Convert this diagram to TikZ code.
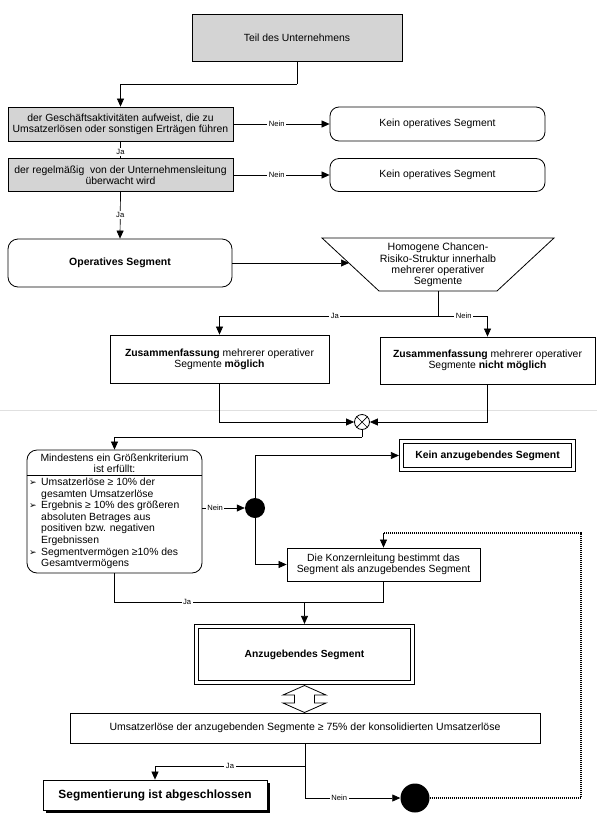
\documentclass[tikz,border=0pt]{standalone}
\usepackage{fontspec}
\setmainfont{Liberation Sans}
\newfontfamily\symfont{DejaVu Sans}
\usetikzlibrary{arrows.meta,shadows}
\newcommand{\arrbullet}{{\symfont\fontsize{9}{9}\selectfont ➢}}
\begin{document}
\begin{tikzpicture}[x=1pt,y=-1pt,
  every node/.style={font=\fontsize{10.4}{11.2}\selectfont},
  box/.style={draw, line width=0.8pt, align=center, inner sep=1pt, fill=white},
  graybox/.style={box, fill=black!17},
  rbox/.style={box, rounded corners=9pt},
  dbox/.style={box, double, double distance=3.6pt, line width=0.7pt, outer sep=2.6pt},
  arr/.style={line width=0.7pt, -{Triangle[length=8pt,width=7pt]}},
  ln/.style={line width=0.7pt},
  lbl/.style={font=\fontsize{7.6}{8}\selectfont, fill=white, inner sep=1.5pt},
  dotline/.style={line width=1.5pt, dash pattern=on 0.9pt off 1.1pt},
  blob/.style={circle, fill=black, inner sep=0pt},
]
\useasboundingbox (0,0) rectangle (597,825);
% faint scan line
\draw[black!12, line width=0.6pt] (0,410) -- (597,410);

% top part
\node[graybox, minimum width=210pt, minimum height=47pt] (teil) at (297,37.5) {Teil des Unternehmens};
\node[graybox, minimum width=225pt, minimum height=34pt] (ges) at (120.5,124) {der Geschäftsaktivitäten aufweist, die zu\\Umsatzerlösen oder sonstigen Erträgen führen};
\node[rbox, minimum width=215pt, minimum height=34pt] (kein1) at (437.5,124) {Kein operatives Segment};
\node[graybox, minimum width=225pt, minimum height=33pt] (reg) at (120.5,175) {der regelmäßig\ \ von der Unternehmensleitung\\überwacht wird};
\node[rbox, minimum width=215pt, minimum height=33pt] (kein2) at (437.5,175) {Kein operatives Segment};
\node[rbox, rounded corners=10pt, minimum width=224pt, minimum height=48pt, font=\fontsize{10.5}{12}\selectfont\bfseries] (ops) at (120,263) {Operatives Segment};

\coordinate (j0) at (297,84);
\draw[ln] (teil.south) -- (j0);
\draw[arr] (j0) -| (ges.north);
\draw[arr] (ges.east) -- node[lbl, pos=0.45]{Nein} (kein1.west);
\draw[arr] (reg.east) -- node[lbl, pos=0.45]{Nein} (kein2.west);
\draw[ln] (ges.south) -- node[lbl, pos=0.65]{Ja} (reg.north);
\draw[arr] (reg.south) -- node[lbl, pos=0.5]{Ja} (ops.north);

% trapezium
\draw[line width=0.8pt] (322,238) -- (554,238) -- (497,291) -- (379,291) -- cycle;
\node[align=center, font=\fontsize{10.6}{11.2}\selectfont] (hom) at (438,265) {Homogene Chancen-\\Risiko-Struktur innerhalb\\mehrerer operativer\\Segmente};
\coordinate (homL) at (349,263);
\coordinate (homB) at (438,291);
\draw[arr] (ops.east) -- (homL);

\node[box, minimum width=219pt, minimum height=48pt] (zm) at (219.5,359) {\textbf{Zusammenfassung} mehrerer operativer\\Segmente \textbf{möglich}};
\node[box, minimum width=215pt, minimum height=47pt] (znm) at (487.5,360.5) {\textbf{Zusammenfassung} mehrerer operativer\\Segmente \textbf{nicht möglich}};
\coordinate (j1) at (438,316);
\draw[ln] (homB) -- (j1);
\draw[arr] (j1) -| node[lbl, pos=0.236]{Ja} (zm.north);
\draw[arr] (j1) -| node[lbl, pos=0.26]{Nein} (znm.north);

% merge
\node[circle, draw, line width=0.8pt, minimum size=15pt, inner sep=0pt] (cx) at (362,422) {};
\draw[line width=0.7pt] (cx.north east) -- (cx.south west) (cx.north west) -- (cx.south east);
\draw[arr] (zm.south) |- (cx.west);
\draw[arr] (znm.south) |- (cx.east);

% size criteria
\node[box, rounded corners=10pt, minimum width=175pt, minimum height=123pt] (gr) at (114.5,511.5) {};
\draw[line width=0.8pt] (gr.west |- 0,475) -- (gr.east |- 0,475);
\node[align=center, inner sep=0pt] (grh) at (114.5,463.5) {Mindestens ein Größenkriterium\\ist erfüllt:};
\node[anchor=north west, inner sep=0pt, align=left] (crit) at (29,477.5) {\fontsize{10.4}{11.55}\selectfont
\begin{tabular}{@{}l@{\hspace{4.5pt}}l@{}}
\arrbullet & Umsatzerlöse ≥ 10\% der\\
 & gesamten Umsatzerlöse\\
\arrbullet & Ergebnis ≥ 10\% des größeren\\
 & absoluten Betrages aus\\
 & positiven bzw. negativen\\
 & Ergebnissen\\
\arrbullet & Segmentvermögen ≥10\% des\\
 & Gesamtvermögens
\end{tabular}};
\coordinate (j2) at (362,437);
\draw[ln] (cx.south) -- (j2);
\draw[arr] (j2) -| (gr.north);

\node[blob, minimum size=20pt] (bc1) at (255,508) {};
\draw[arr] (gr.east |- bc1) -- node[lbl, pos=0.3]{Nein} (bc1.west);

\node[dbox, minimum width=172pt, minimum height=28pt, font=\fontsize{10.4}{12}\selectfont\bfseries, drop shadow={shadow xshift=1.5pt, shadow yshift=-1.5pt, fill=black!45, opacity=1}] (kan) at (487.5,455.5) {Kein anzugebendes Segment};
\draw[arr] (bc1.north) |- (kan.west);

\node[box, minimum width=193pt, minimum height=33pt] (konz) at (383.5,564.5) {Die Konzernleitung bestimmt das\\Segment als anzugebendes Segment};
\draw[arr] (bc1.south) |- (konz.west);

\coordinate (j3) at (383.5,602);
\draw[ln] (gr.south) |- node[lbl, pos=0.635]{Ja} (j3);
\draw[ln] (konz.south) -- (j3);

\node[dbox, minimum width=216pt, minimum height=56pt, font=\fontsize{10.3}{12}\selectfont\bfseries] (anz) at (304.5,654.5) {Anzugebendes Segment};
\draw[arr] (anz.north |- j3) -- (anz.north);

% double hollow arrow
\draw[line width=0.8pt, fill=white] (304.5,685.5) -- (326,695) -- (314.5,695) -- (314.5,703) -- (326,703) -- (304.5,712.5) -- (283,703) -- (294.5,703) -- (294.5,695) -- (283,695) -- cycle;

\node[box, minimum width=470pt, minimum height=30pt, font=\fontsize{10.5}{12}\selectfont] (ums) at (305,728) {Umsatzerlöse der anzugebenden Segmente ≥ 75\% der konsolidierten Umsatzerlöse};

\node[box, minimum width=224pt, minimum height=30pt, font=\fontsize{11.9}{14}\selectfont\bfseries, drop shadow={shadow xshift=3pt, shadow yshift=-3pt, fill=black, opacity=1}] (seg) at (155,795) {Segmentierung ist abgeschlossen};

\node[blob, minimum size=29pt] (bc2) at (415,798) {};

\coordinate (j5) at (305,766);
\draw[ln] (ums.south) -- (j5);
\draw[arr] (j5) -| node[lbl, pos=0.25]{Ja} (seg.north);
\draw[arr] (j5) |- node[lbl, pos=0.68]{Nein} (bc2.west);

\coordinate (d1) at (581,798);
\coordinate (d2) at (581,533);
\draw[dotline] (bc2.east) -- (d1) -- (d2) -- (konz.north |- d2);
\draw[arr] (konz.north |- d2) -- (konz.north);
\end{tikzpicture}
\end{document}
